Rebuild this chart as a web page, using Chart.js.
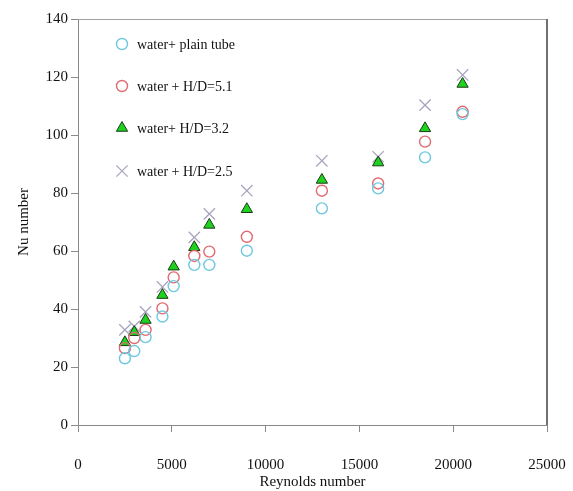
<!DOCTYPE html>
<html>
<head>
<meta charset="utf-8">
<script src="https://cdn.jsdelivr.net/npm/chart.js@4.4.1/dist/chart.umd.min.js"></script>
<style>
  html, body { margin: 0; padding: 0; background: #fff; }
  #wrap { width: 573px; height: 491px; }
</style>
</head>
<body>
<div id="wrap"><canvas id="nu-chart"></canvas></div>
<script>
const reynolds = [2500, 3000, 3600, 4500, 5100, 6200, 7000, 9000, 13000, 16000, 18500, 20500];
const plainTube = [23, 25.5, 30.3, 37.4, 47.9, 55.2, 55.2, 60.1, 74.7, 81.6, 92.3, 107.2];
const hd51 = [26.5, 30, 32.8, 40.2, 50.9, 58.3, 59.8, 64.9, 80.8, 83.3, 97.7, 108];
const hd32 = [28.5, 32, 36.2, 44.8, 54.6, 61.3, 69, 74.4, 84.5, 90.5, 102.3, 117.6];
const hd25 = [32.8, 34, 39, 47.6, null, 64.7, 72.8, 80.8, 91.1, 92.5, 110.3, 120.7];
const seriesLabels = ["water+ plain tube", "water + H/D=5.1", "water+ H/D=3.2", "water + H/D=2.5"];

const serif = "'Liberation Serif', 'Times New Roman', serif";
const pts = (ys) => reynolds.map((x, i) => ({ x: x, y: ys[i] }));

const styles = [
  { pointStyle: "circle", radius: 5.5, bg: "rgba(0,0,0,0)", border: "#6cc8e0", bw: 1.4 },
  { pointStyle: "circle", radius: 5.5, bg: "rgba(0,0,0,0)", border: "#e06a70", bw: 1.4 },
  { pointStyle: "triangle", radius: 6.5, bg: "#1ed21e", border: "#1a3a1a", bw: 1 },
  { pointStyle: "crossRot", radius: 8, bg: "rgba(0,0,0,0)", border: "#a9a4bd", bw: 1.3 },
];

// legend drawn inside the plot, like the original
const insideLegend = {
  id: "insideLegend",
  afterDraw(chart) {
    const { ctx, chartArea: a } = chart;
    ctx.save();
    // top + right frame
    ctx.strokeStyle = "#a0a0a0";
    ctx.lineWidth = 1;
    ctx.beginPath();
    ctx.moveTo(a.left, a.top + 0.5);
    ctx.lineTo(a.right, a.top + 0.5);
    ctx.stroke();
    ctx.strokeStyle = "#707070";
    ctx.lineWidth = 2;
    ctx.beginPath();
    ctx.moveTo(a.right, a.top);
    ctx.lineTo(a.right, a.bottom);
    ctx.stroke();

    const lx = 122, ly = [44, 86, 128, 171];
    ctx.font = "14px " + serif;
    ctx.textBaseline = "middle";
    ctx.textAlign = "left";
    styles.forEach((s, i) => {
      ctx.fillStyle = s.bg;
      ctx.strokeStyle = s.border;
      ctx.lineWidth = s.bw;
      Chart.helpers.drawPoint(ctx, { pointStyle: s.pointStyle, radius: s.radius, borderWidth: s.bw, rotation: 0 }, lx, ly[i]);
      ctx.fillStyle = "#111";
      ctx.fillText(seriesLabels[i], lx + 15, ly[i] + 1);
    });
    ctx.restore();
  },
};

new Chart(document.getElementById("nu-chart"), {
  type: "scatter",
  data: {
    datasets: [plainTube, hd51, hd32, hd25].map((ys, i) => ({
      label: seriesLabels[i],
      data: pts(ys),
      pointStyle: styles[i].pointStyle,
      pointRadius: styles[i].radius,
      pointBackgroundColor: styles[i].bg,
      pointBorderColor: styles[i].border,
      pointBorderWidth: styles[i].bw,
      pointHoverRadius: styles[i].radius,
    })),
  },
  options: {
    responsive: true,
    maintainAspectRatio: false,
    animation: false,
    layout: { padding: { top: 19, right: 26, left: 0, bottom: 0 } },
    plugins: { legend: { display: false }, tooltip: { enabled: false } },
    scales: {
      x: {
        type: "linear",
        min: 0,
        max: 25000,
        afterFit(s) { s.height = 66; s.paddingLeft = 0; s.paddingRight = 0; },
        ticks: {
          stepSize: 5000,
          padding: 24,
          color: "#111",
          font: { family: serif, size: 15 },
          callback: (v) => String(v),
        },
        grid: { drawOnChartArea: false, drawTicks: true, tickLength: 7, color: "#8a8a8a" },
        border: { color: "#8a8a8a", width: 1 },
        title: { display: true, text: "Reynolds number", color: "#111", font: { family: serif, size: 15 }, padding: { top: 0, bottom: 0 } },
      },
      y: {
        min: 0,
        max: 140,
        afterFit(s) { s.width = 78; s.paddingTop = 0; s.paddingBottom = 0; },
        ticks: {
          stepSize: 20,
          padding: 3,
          color: "#111",
          font: { family: serif, size: 15 },
        },
        grid: { drawOnChartArea: false, drawTicks: true, tickLength: 7, color: "#8a8a8a" },
        border: { color: "#8a8a8a", width: 1 },
        title: { display: true, text: "Nu number", color: "#111", font: { family: serif, size: 15 }, padding: { top: 15, bottom: 0 } },
      },
    },
  },
  plugins: [insideLegend],
});
</script>
</body>
</html>
